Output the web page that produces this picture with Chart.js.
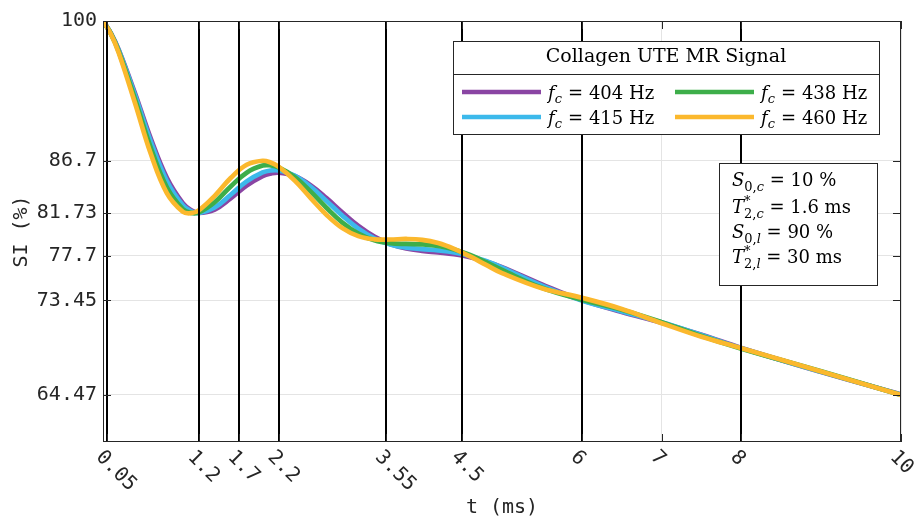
<!DOCTYPE html>
<html>
<head>
<meta charset="utf-8">
<script src="https://cdn.jsdelivr.net/npm/chart.js@4"></script>
<style>
  html, body { margin: 0; padding: 0; background: #fff; }
  canvas { display: block; }
</style>
</head>
<body>
<canvas id="chart" width="916" height="518"></canvas>
<script>
// echo times (ms)
const times = [0, 0.1, 0.2, 0.4, 0.6, 0.8, 1.0, 1.1, 1.2, 1.4, 1.6, 1.8, 2.0, 2.1, 2.2, 2.4,
  2.6, 2.8, 3.0, 3.2, 3.4, 3.6, 3.8, 4.0, 4.2, 4.4, 4.6, 4.8, 5.0, 5.5, 6, 6.5, 7, 7.5, 8, 9, 10];

const freqs = [404, 415, 438, 460];

// signal intensity (%)
const si404 = [100, 98.82, 97.21, 93.16, 88.81, 85.11, 82.70, 82.05, 81.77, 82.09, 83.15, 84.36,
  85.26, 85.50, 85.59, 85.27, 84.40, 83.17, 81.81, 80.54, 79.53, 78.81, 78.39, 78.16, 78.01,
  77.84, 77.56, 77.16, 76.62, 74.98, 73.48, 72.35, 71.33, 70.18, 68.94, 66.65, 64.51];
const si415 = [100, 98.81, 97.16, 92.99, 88.53, 84.80, 82.49, 81.93, 81.75, 82.28, 83.49, 84.76,
  85.61, 85.80, 85.81, 85.31, 84.26, 82.91, 81.50, 80.27, 79.35, 78.77, 78.47, 78.33, 78.21,
  78.02, 77.68, 77.19, 76.57, 74.86, 73.45, 72.41, 71.37, 70.16, 68.91, 66.67, 64.50];
const si438 = [100, 98.78, 97.04, 92.61, 87.93, 84.19, 82.12, 81.77, 81.81, 82.78, 84.28, 85.59,
  86.26, 86.28, 86.10, 85.20, 83.81, 82.26, 80.85, 79.80, 79.17, 78.89, 78.82, 78.78, 78.63,
  78.30, 77.77, 77.09, 76.35, 74.65, 73.52, 72.57, 71.39, 70.07, 68.87, 66.71, 64.47];
const si460 = [100, 98.74, 96.92, 92.23, 87.36, 83.65, 81.88, 81.74, 82.01, 83.39, 85.08, 86.34,
  86.72, 86.55, 86.16, 84.86, 83.20, 81.59, 80.32, 79.56, 79.26, 79.24, 79.29, 79.21, 78.90,
  78.35, 77.63, 76.83, 76.05, 74.61, 73.70, 72.64, 71.29, 70.00, 68.91, 66.70, 64.47];

const xTicks = [0.05, 1.2, 1.7, 2.2, 3.55, 4.5, 6, 7, 8, 10];
const markerTimes = [0.05, 1.2, 1.7, 2.2, 3.55, 4.5, 6, 8];
const yTicks = [64.47, 73.45, 77.7, 81.73, 86.7, 100];

const seriesValues = [si404, si415, si438, si460];
const lineColors = ["#8A45A3", "#3CB9EB", "#3DAE4A", "#FBB82D"];
const textColor = "#262626";
const monoFont = "DejaVu Sans Mono";
const serifFont = "DejaVu Serif";

// [text, style, dy, stacked]  style: n / i / sn / si (s = small)
const paramLines = [
  [["S", "i"], ["0,", "sn", 5], ["c", "si", 5], [" = 10 %", "n"]],
  [["T", "i"], ["*", "sn", -8, true], ["2,", "sn", 5], ["c", "si", 5], [" = 1.6 ms", "n"]],
  [["S", "i"], ["0,", "sn", 5], ["l", "si", 5], [" = 90 %", "n"]],
  [["T", "i"], ["*", "sn", -8, true], ["2,", "sn", 5], ["l", "si", 5], [" = 30 ms", "n"]],
];

function drawRuns(ctx, x, y, runs, size) {
  let cx = x;
  runs.forEach(([text, style, dy = 0, stack = false]) => {
    const small = style[0] === "s";
    const italic = style.endsWith("i");
    ctx.font = `${italic ? "italic " : ""}${small ? Math.round(size * 0.7) : size}px "${serifFont}"`;
    ctx.fillText(text, cx, y + dy);
    if (!stack) cx += ctx.measureText(text).width;
  });
}

const decorations = {
  id: "decorations",
  afterDatasetsDraw(chart) {
    const { ctx, chartArea: { top, bottom }, scales: { x } } = chart;
    ctx.save();
    ctx.strokeStyle = "#000";
    ctx.lineWidth = 2;
    markerTimes.forEach((t) => {
      const px = Math.round(x.getPixelForValue(t));
      ctx.beginPath();
      ctx.moveTo(px, top);
      ctx.lineTo(px, bottom);
      ctx.stroke();
    });
    ctx.restore();
  },
  afterDraw(chart) {
    const { ctx, chartArea: { top, bottom, left, right }, scales: { x, y } } = chart;
    ctx.save();

    // axes box + inward ticks
    ctx.strokeStyle = textColor;
    ctx.lineWidth = 1;
    ctx.strokeRect(left + 0.5, top + 0.5, right - left - 1, bottom - top - 1);
    ctx.beginPath();
    yTicks.forEach((v) => {
      const py = Math.round(y.getPixelForValue(v)) + 0.5;
      ctx.moveTo(left, py); ctx.lineTo(left + 8, py);
      ctx.moveTo(right, py); ctx.lineTo(right - 8, py);
    });
    xTicks.forEach((v) => {
      const px = Math.round(x.getPixelForValue(v)) + 0.5;
      ctx.moveTo(px, bottom); ctx.lineTo(px, bottom - 8);
      ctx.moveTo(px, top); ctx.lineTo(px, top + 8);
    });
    ctx.stroke();

    // rotated x tick labels
    ctx.fillStyle = textColor;
    ctx.font = `20px "${monoFont}"`;
    ctx.textAlign = "left";
    ctx.textBaseline = "middle";
    xTicks.forEach((v) => {
      const px = x.getPixelForValue(v);
      ctx.save();
      ctx.translate(px - 8, bottom + 12);
      ctx.rotate(Math.PI / 4);
      ctx.fillText(String(v), 0, 0);
      ctx.restore();
    });

    // legend box
    const lg = { x: 453, y: 41, w: 426, h: 93, sep: 74 };
    ctx.fillStyle = "#fff";
    ctx.fillRect(lg.x, lg.y, lg.w, lg.h);
    ctx.strokeStyle = textColor;
    ctx.strokeRect(lg.x + 0.5, lg.y + 0.5, lg.w, lg.h);
    ctx.beginPath();
    ctx.moveTo(lg.x, lg.sep + 0.5);
    ctx.lineTo(lg.x + lg.w, lg.sep + 0.5);
    ctx.stroke();
    ctx.fillStyle = "#000";
    ctx.font = `19px "${serifFont}"`;
    ctx.textAlign = "center";
    ctx.textBaseline = "middle";
    ctx.fillText("Collagen UTE MR Signal", lg.x + lg.w / 2, 57.5);

    ctx.textAlign = "left";
    ctx.textBaseline = "alphabetic";
    chart.data.datasets.forEach((ds, i) => {
      const col = Math.floor(i / 2);
      const row = i % 2;
      const lx = 462 + col * 213;
      const ly = 92 + row * 25;
      ctx.strokeStyle = ds.borderColor;
      ctx.lineWidth = 4.5;
      ctx.beginPath();
      ctx.moveTo(lx, ly);
      ctx.lineTo(lx + 79, ly);
      ctx.stroke();
      ctx.fillStyle = "#000";
      drawRuns(ctx, lx + 86, ly + 6.5, [["f", "i"], ["c", "si", 4], [`\u2004=\u2004${freqs[i]} Hz`, "n"]], 18);
    });

    // parameter box
    ctx.fillStyle = "#fff";
    ctx.fillRect(719, 163, 158, 122);
    ctx.strokeStyle = textColor;
    ctx.lineWidth = 1;
    ctx.strokeRect(719.5, 163.5, 158, 122);
    ctx.fillStyle = "#000";
    const baselines = [186, 212.5, 237.5, 263];
    paramLines.forEach((runs, i) => drawRuns(ctx, 732, baselines[i], runs, 18));

    ctx.restore();
  },
};

const canvas = document.getElementById("chart");
const ctx = canvas.getContext("2d");
const chart = new Chart(ctx, {
  type: "line",
  data: {
    datasets: freqs.map((f, i) => ({
      label: `f_c = ${f} Hz`,
      data: times.map((t, k) => ({ x: t, y: seriesValues[i][k] })),
      borderColor: lineColors[i],
      backgroundColor: lineColors[i],
      borderWidth: 4.7,
      pointRadius: 0,
      tension: 0.4,
      fill: false,
      order: freqs.length - i,
    })),
  },
  options: {
    responsive: false,
    animation: false,
    devicePixelRatio: 1,
    layout: { padding: { left: 0, right: 15, top: 21, bottom: 0 } },
    plugins: {
      legend: { display: false },
      tooltip: { enabled: false },
    },
    scales: {
      x: {
        type: "linear",
        min: 0,
        max: 10,
        afterBuildTicks: (s) => { s.ticks = xTicks.map((v) => ({ value: v })); },
        afterFit: (s) => { s.height = 76; },
        ticks: { display: false },
        grid: { color: "#e4e4e4", drawTicks: false },
        border: { display: false },
        title: {
          display: true,
          text: "t (ms)",
          color: textColor,
          font: { family: monoFont, size: 20, lineHeight: 1 },
          padding: { top: 0, bottom: 0 },
        },
      },
      y: {
        type: "linear",
        min: 60,
        max: 100,
        afterBuildTicks: (s) => { s.ticks = yTicks.map((v) => ({ value: v })); },
        afterFit: (s) => { s.width = 103; },
        ticks: {
          autoSkip: false,
          padding: 6,
          color: textColor,
          font: { family: monoFont, size: 20 },
          callback: (v) => String(v),
        },
        grid: { color: "#e4e4e4", drawTicks: false },
        border: { display: false },
        title: {
          display: true,
          text: "SI (%)",
          color: textColor,
          font: { family: monoFont, size: 20, lineHeight: 1 },
          padding: { top: 12, bottom: 0 },
        },
      },
    },
  },
  plugins: [decorations],
});
</script>
</body>
</html>
